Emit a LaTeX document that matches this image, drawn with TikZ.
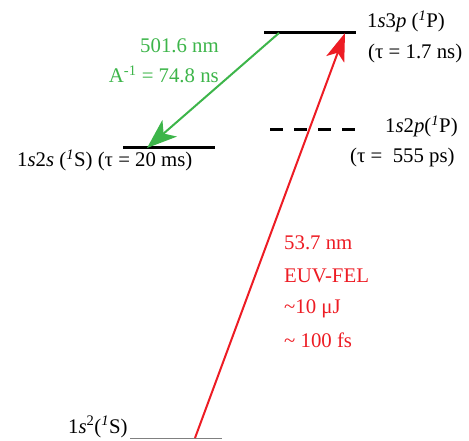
\documentclass[tikz,border=0pt]{standalone}
\usepackage{fontspec}
\setmainfont{Liberation Serif}
\usetikzlibrary{arrows.meta}
\definecolor{laserred}{RGB}{237,28,36}
\definecolor{decaygreen}{RGB}{61,181,74}

\begin{document}
\begin{tikzpicture}[x=1pt, y=-1pt,
        every node/.style={font=\fontsize{20.8}{24}\selectfont, inner sep=0pt},
        level/.style={draw=black, line width=3pt},
        dashlevel/.style={draw=black, line width=3pt, dash pattern=on 13pt off 11pt},
        ground/.style={draw=gray, line width=1pt},
        pump/.style={-{Stealth[length=28pt, width=19pt, inset=7pt]}, draw=laserred, fill=laserred, line width=2pt},
        decay/.style={-{Stealth[length=30pt, width=22pt, inset=8pt]}, draw=decaygreen, fill=decaygreen, line width=2pt},
        redlabel/.style={anchor=base west, text=laserred},
        greenlabel/.style={anchor=base east, text=decaygreen},
    ]
        \useasboundingbox (0,0) rectangle (469,441);

        % energy levels
        \coordinate (p3L) at (264,33);
        \coordinate (p3R) at (356,33);
        \coordinate (s2L) at (123,148);
        \coordinate (s2R) at (215,148);
        \coordinate (p2L) at (270,130);
        \coordinate (p2R) at (358,130);
        \coordinate (gL) at (130,438);
        \coordinate (gR) at (222,438);

        \draw[level] (p3L) -- (p3R);
        \draw[level] (s2L) -- (s2R);
        \draw[dashlevel] (p2L) -- (p2R);
        \draw[ground] (gL) -- (gR);

        % level labels
        \node[anchor=base west] (p3name) at (367,28) {1\textit{s}3\textit{p} (\textsuperscript{\textit{1}}P)};
        \node[anchor=base west] (p3tau) at (368,59) {(τ = 1.7 ns)};
        \node[anchor=base west] (p2name) at (385,133) {1\textit{s}2\textit{p}(\textsuperscript{\textit{1}}P)};
        \node[anchor=base west] (p2tau) at (350,163) {(τ =\ \ 555 ps)};
        \node[anchor=base west] (s2name) at (17,167) {1\textit{s}2\textit{s} (\textsuperscript{\textit{1}}S) (τ = 20 ms)};
        \node[anchor=base west] (gname) at (68,433) {1\textit{s}\textsuperscript{2}(\textsuperscript{\textit{1}}S)};

        % transitions
        \coordinate (pumpfrom) at (195,438);
        \coordinate (pumpto) at (345,33);
        \coordinate (decayfrom) at (279,33);
        \coordinate (decayto) at (147,148);

        \draw[pump] (pumpfrom) -- (pumpto);
        \draw[decay] (decayfrom) -- (decayto);

        \node[greenlabel] (wl) at (219,53) {501.6 nm};
        \node[greenlabel] (rate) at (219,83) {A\textsuperscript{-1} = 74.8 ns};

        \node[redlabel] (euvwl) at (284,250) {53.7 nm};
        \node[redlabel] (euvsrc) at (284,282) {EUV-FEL};
        \node[redlabel] (euvpulse) at (284,313) {\textasciitilde10 μJ};
        \node[redlabel] (euvdur) at (284,347) {\textasciitilde\ 100 fs};

    \end{tikzpicture}
\end{document}
